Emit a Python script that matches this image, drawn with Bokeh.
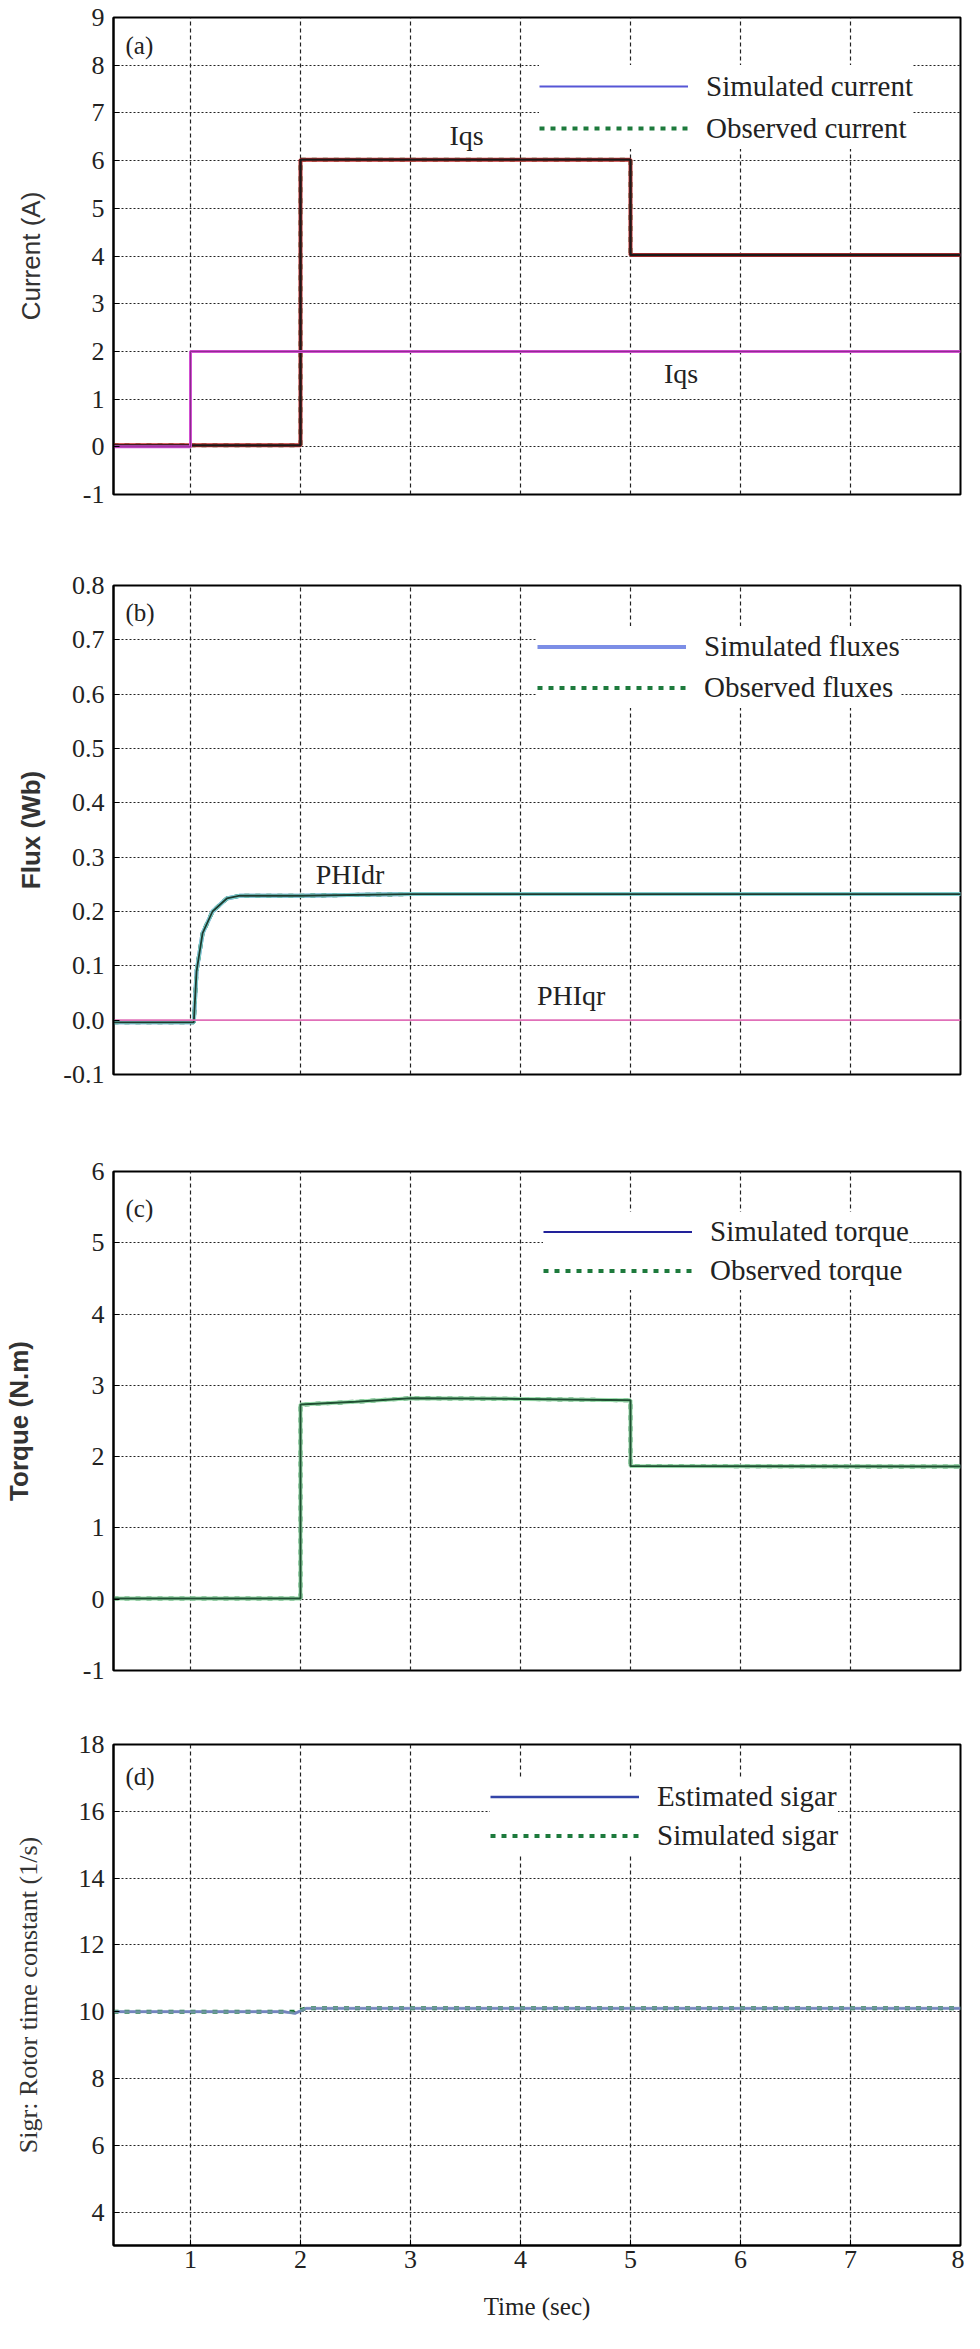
from bokeh.plotting import figure
from bokeh.models import (Range1d, FixedTicker, Legend, LegendItem, Label,
                          PrintfTickFormatter)
from bokeh.layouts import column
from bokeh.embed import file_html
from bokeh.resources import INLINE

# ---------------- data ----------------
x_ticks = [1, 2, 3, 4, 5, 6, 7, 8]

# (a) currents
iqs_hi_t = [0.3, 2.0, 2.0, 5.0, 5.0, 8.0]
iqs_hi_v = [0.03, 0.03, 6.02, 6.02, 4.02, 4.02]
iqs_lo_t = [0.3, 1.0, 1.0, 8.0]
iqs_lo_v = [0.0, 0.0, 2.0, 2.0]
a_yticks = [-1, 0, 1, 2, 3, 4, 5, 6, 7, 8, 9]

# (b) rotor fluxes
phidr_t = [0.3, 1.03, 1.055, 1.11, 1.2, 1.33, 1.45, 2.0, 3.0, 8.0]
phidr_v = [-0.004, -0.004, 0.09, 0.16, 0.2, 0.224, 0.229, 0.229, 0.232, 0.232]
phiqr_t = [0.3, 8.0]
phiqr_v = [0.0, 0.0]
b_yticks = [-0.1, 0.0, 0.1, 0.2, 0.3, 0.4, 0.5, 0.6, 0.7, 0.8]

# (c) torque
torque_t = [0.3, 2.0, 2.0, 2.5, 3.0, 4.0, 5.0, 5.0, 8.0]
torque_v = [0.01, 0.01, 2.73, 2.77, 2.82, 2.81, 2.79, 1.87, 1.86]
c_yticks = [-1, 0, 1, 2, 3, 4, 5, 6]

# (d) rotor time constant
sig_t = [0.3, 1.85, 1.95, 2.05, 8.0]
sig_est = [10.0, 10.0, 9.95, 10.1, 10.1]
sig_sim = [10.0, 10.0, 10.0, 10.1, 10.1]
d_yticks = [4, 6, 8, 10, 12, 14, 16, 18]

SERIF = "Liberation Serif"
SANS = "Liberation Sans"
TXT = "#222222"
GREEN = "#1d7a3c"


def make_fig(height, top, bottom, yr, yticks, ylabel, yfont, ystyle,
             ystandoff, show_x):
    p = figure(width=964, height=height, x_range=Range1d(0.3, 8),
               y_range=Range1d(*yr), output_backend="svg",
               toolbar_location=None, min_border_left=101,
               min_border_right=4, min_border_top=top,
               min_border_bottom=bottom)
    p.background_fill_color = "white"
    p.border_fill_color = "white"
    p.outline_line_color = "black"
    p.outline_line_width = 2
    p.outline_line_alpha = 1

    p.xaxis.ticker = FixedTicker(ticks=x_ticks)
    p.yaxis.ticker = FixedTicker(ticks=yticks)
    p.xgrid.ticker = FixedTicker(ticks=x_ticks[:-1])
    p.ygrid.ticker = FixedTicker(ticks=yticks)
    p.xgrid.grid_line_color = "#222222"
    p.xgrid.grid_line_dash = "4 3"
    p.xgrid.grid_line_width = 1.2
    p.ygrid.grid_line_color = "#222222"
    p.ygrid.grid_line_dash = "2 2"
    p.ygrid.grid_line_width = 1.2

    for ax in (p.xaxis, p.yaxis):
        ax.axis_line_color = "black"
        ax.axis_line_width = 2
        ax.major_tick_in = 6
        ax.major_tick_out = 0
        ax.minor_tick_line_color = None
        ax.major_tick_line_color = "black"
        ax.major_label_text_font = SERIF
        ax.major_label_text_font_size = "26px"
        ax.major_label_text_color = TXT

    p.yaxis.major_label_standoff = 9
    p.yaxis.axis_label = ylabel
    p.yaxis.axis_label_text_font = yfont
    p.yaxis.axis_label_text_font_style = ystyle
    p.yaxis.axis_label_text_font_size = "26px"
    p.yaxis.axis_label_text_color = "#333333"
    p.yaxis.axis_label_standoff = ystandoff

    if show_x:
        p.xaxis.major_label_standoff = 5
        p.xaxis.axis_label = "Time (sec)"
        p.xaxis.axis_label_text_font = SERIF
        p.xaxis.axis_label_text_font_style = "normal"
        p.xaxis.axis_label_text_font_size = "25px"
        p.xaxis.axis_label_text_color = TXT
        p.xaxis.axis_label_standoff = 22
    else:
        p.xaxis.visible = False
    return p


def add_legend(p, items, loc, row_h):
    lg = Legend(items=[LegendItem(label=l, renderers=[r]) for l, r in items],
                location=loc, padding=8, spacing=0, margin=0,
                glyph_width=149, glyph_height=row_h, label_height=row_h,
                label_standoff=18, label_text_font=SERIF,
                label_text_font_size="29px", label_text_color=TXT,
                border_line_color=None, background_fill_color="white",
                background_fill_alpha=1.0)
    p.add_layout(lg)


def panel_tag(p, text, frame_h, below_top):
    p.add_layout(Label(x=12, y=frame_h - below_top, x_units="screen",
                       y_units="screen", text=text, text_font=SERIF,
                       text_font_size="25px", text_color=TXT,
                       text_baseline="middle"))


def curve_label(p, x, y, text):
    p.add_layout(Label(x=x, y=y, text=text, text_font=SERIF,
                       text_font_size="28px", text_color=TXT,
                       text_align="center", text_baseline="middle"))


# ---------------- (a) ----------------
pa = make_fig(539, 17, 45, (-1, 9), a_yticks, "Current (A)", SANS, "normal",
              34, False)
pa.yaxis.major_label_overrides = {-1: "-1"}
ra_sim = pa.line(iqs_hi_t, iqs_hi_v, line_color="#5656d6", line_width=2)
ra_obs = pa.line(iqs_hi_t, iqs_hi_v, line_color=GREEN, line_width=4,
                 line_dash="5 6")
pa.line(iqs_hi_t, iqs_hi_v, line_color="#c83030", line_width=4)
pa.line(iqs_hi_t, iqs_hi_v, line_color="#1a1a1a", line_width=2.4)
pa.line(iqs_lo_t, iqs_lo_v, line_color="#d24fd2", line_width=3)
pa.line(iqs_lo_t, iqs_lo_v, line_color="#8a2a8a", line_width=1)
add_legend(pa, [("Simulated current", ra_sim), ("Observed current", ra_obs)],
           (426, 345), 42)
panel_tag(pa, "(a)", 477, 28)
curve_label(pa, 3.51, 6.53, "Iqs")
curve_label(pa, 5.46, 1.54, "Iqs")

# ---------------- (b) ----------------
pb = make_fig(583, 46, 48, (-0.1, 0.8), b_yticks, "Flux (Wb)", SANS, "bold",
              14, False)
pb.yaxis.formatter = PrintfTickFormatter(format="%.1f")
rb_sim = pb.line(phidr_t, phidr_v, line_color="#7c8ee6", line_width=4)
rb_obs = pb.line(phidr_t, phidr_v, line_color=GREEN, line_width=4,
                 line_dash="5 6")
pb.line(phidr_t, phidr_v, line_color="#7fd0d0", line_width=4)
pb.line(phidr_t, phidr_v, line_color="#1e3a2e", line_width=1.8)
pb.line(phiqr_t, phiqr_v, line_color="#e070b8", line_width=1.8)
add_legend(pb, [("Simulated fluxes", rb_sim), ("Observed fluxes", rb_obs)],
           (424, 366), 41)
panel_tag(pb, "(b)", 489, 27)
curve_label(pb, 2.45, 0.268, "PHIdr")
curve_label(pb, 4.46, 0.046, "PHIqr")

# ---------------- (c) ----------------
pc = make_fig(585, 49, 37, (-1, 6), c_yticks, "Torque (N.m)", SANS, "bold",
              46, False)
pc.yaxis.major_label_overrides = {-1: "-1"}
rc_sim = pc.line(torque_t, torque_v, line_color="#22229a", line_width=2)
rc_obs = pc.line(torque_t, torque_v, line_color=GREEN, line_width=4,
                 line_dash="5 6")
pc.line(torque_t, torque_v, line_color="#9fe0b0", line_width=4)
pc.line(torque_t, torque_v, line_color="#1f4f32", line_width=2)
add_legend(pc, [("Simulated torque", rc_sim), ("Observed torque", rc_obs)],
           (430, 380), 39)
panel_tag(pc, "(c)", 499, 37)

# ---------------- (d) ----------------
pd_ = make_fig(618, 37, 80, (3, 18), d_yticks,
               "Sigr: Rotor time constant (1/s)", SERIF, "normal", 33, True)
rd_est = pd_.line(sig_t, sig_est, line_color="#3344a8", line_width=2.4)
rd_sim = pd_.line(sig_t, sig_sim, line_color=GREEN, line_width=4,
                  line_dash="5 6")
pd_.line(sig_t, sig_est, line_color="#8fa0c8", line_width=3, line_alpha=0.7)
add_legend(pd_, [("Estimated sigar", rd_est), ("Simulated sigar", rd_sim)],
           (377, 390), 39)
panel_tag(pd_, "(d)", 501, 32)

layout = column(pa, pb, pc, pd_, spacing=0)
open("out.html", "w").write(file_html(layout, INLINE))
